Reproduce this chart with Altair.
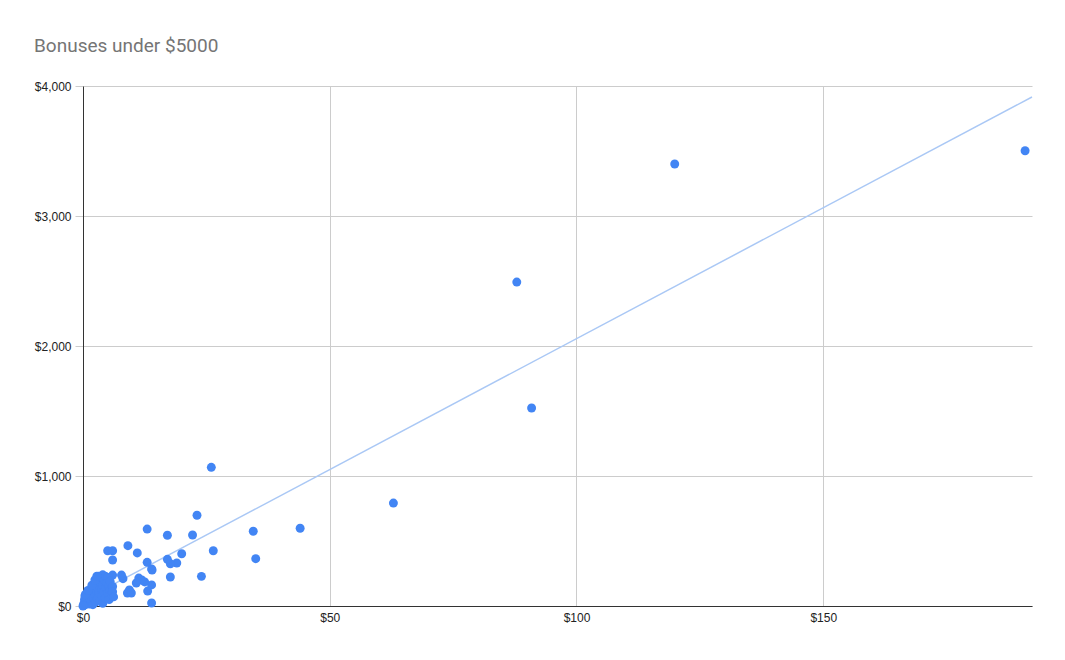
import altair as alt
import pandas as pd

# x values (dollars) and bonus values (dollars)
x_vals = [
    190.9, 119.9, 87.9, 90.9, 62.9, 44.0, 34.5, 35.0, 26.0, 23.1, 22.2, 26.4, 24.0,
    20.0, 19.0, 17.7, 17.1, 17.1, 17.7, 13.0, 9.1, 11.0, 13.0, 14.0, 13.9, 13.9,
    12.5, 13.1, 5.0, 6.0, 6.0, 6.0, 8.1, 7.8, 11.3, 11.9, 10.8, 9.4, 9.0, 9.8, 13.9,
    0.2, 0.3, 0.4, 0.5, 0.6, 0.8, 1.0, 1.0, 1.2, 1.3, 1.5, 1.5, 1.7, 1.8, 2.0, 2.0,
    2.2, 2.3, 2.5, 2.5, 2.7, 2.8, 3.0, 3.0, 3.0, 3.2, 3.3, 3.5, 3.5, 3.6, 3.8, 3.8,
    4.0, 4.0, 4.0, 4.2, 4.3, 4.5, 4.5, 4.6, 4.8, 5.0, 5.0, 5.2, 5.3, 5.5, 5.5, 5.8,
    6.0, 6.0, 6.2, 0.1, 0.0, 0.5, 1.0, 1.8, 2.4, 2.8,
]
y_vals = [
    3502, 3400, 2492, 1523, 792, 598, 575, 364, 1067, 698, 546, 425, 228,
    402, 331, 325, 544, 359, 223, 592, 464, 408, 336, 277, 162, 23,
    185, 115, 425, 425, 354, 238, 210, 238, 215, 200, 177, 123, 100, 100, 285,
    20, 50, 80, 10, 40, 60, 90, 25, 70, 15, 50, 100, 35, 80, 120, 10,
    60, 150, 90, 30, 170, 110, 200, 60, 140, 230, 100, 180, 40, 220, 130, 80,
    240, 160, 20, 110, 200, 60, 230, 140, 180, 100, 220, 150, 50, 120, 190, 90,
    150, 110, 70, 5, 0, 90, 120, 160, 200, 230,
]

df = pd.DataFrame({"x": x_vals, "y": y_vals})

label_font = "Liberation Sans"

x_enc = alt.X(
    "x:Q",
    scale=alt.Scale(domain=[0, 192.3], nice=False, zero=True),
    axis=alt.Axis(
        values=[0, 50, 100, 150], format="$,.0f", title=None,
        labelFont=label_font, labelFontSize=12, labelColor="#222222",
        labelPadding=6, ticks=False, domainColor="#333333",
        gridColor="#cccccc", labelFlush=False,
    ),
)
y_enc = alt.Y(
    "y:Q",
    scale=alt.Scale(domain=[0, 4000], nice=False),
    axis=alt.Axis(
        values=[0, 1000, 2000, 3000, 4000], format="$,.0f", title=None,
        labelFont=label_font, labelFontSize=12, labelColor="#222222",
        tickSize=8, tickColor="#cccccc", labelPadding=4,
        domainColor="#333333", gridColor="#cccccc",
    ),
)

trend = alt.Chart(df).transform_regression(
    "x", "y", extent=[0, 192.3]
).mark_line(color="#aac8f5", strokeWidth=1.5).encode(x=x_enc, y=y_enc)

points = alt.Chart(df).mark_circle(
    size=80, color="#4285F4", opacity=1
).encode(x=x_enc, y=y_enc)

chart = alt.layer(trend, points).properties(
    width=949,
    height=520,
    title=alt.TitleParams(
        "Bonuses under $5000", anchor="start", font="Roboto", fontSize=19,
        fontWeight="normal", color="#757575", frame="group", dx=-49, offset=24,
    ),
    autosize=alt.AutoSizeParams(type="none"),
    padding={"left": 75, "top": 78, "right": 20, "bottom": 40},
).configure_view(stroke=None)

chart.save("out.html", embed_options={"renderer": "svg", "actions": False})
